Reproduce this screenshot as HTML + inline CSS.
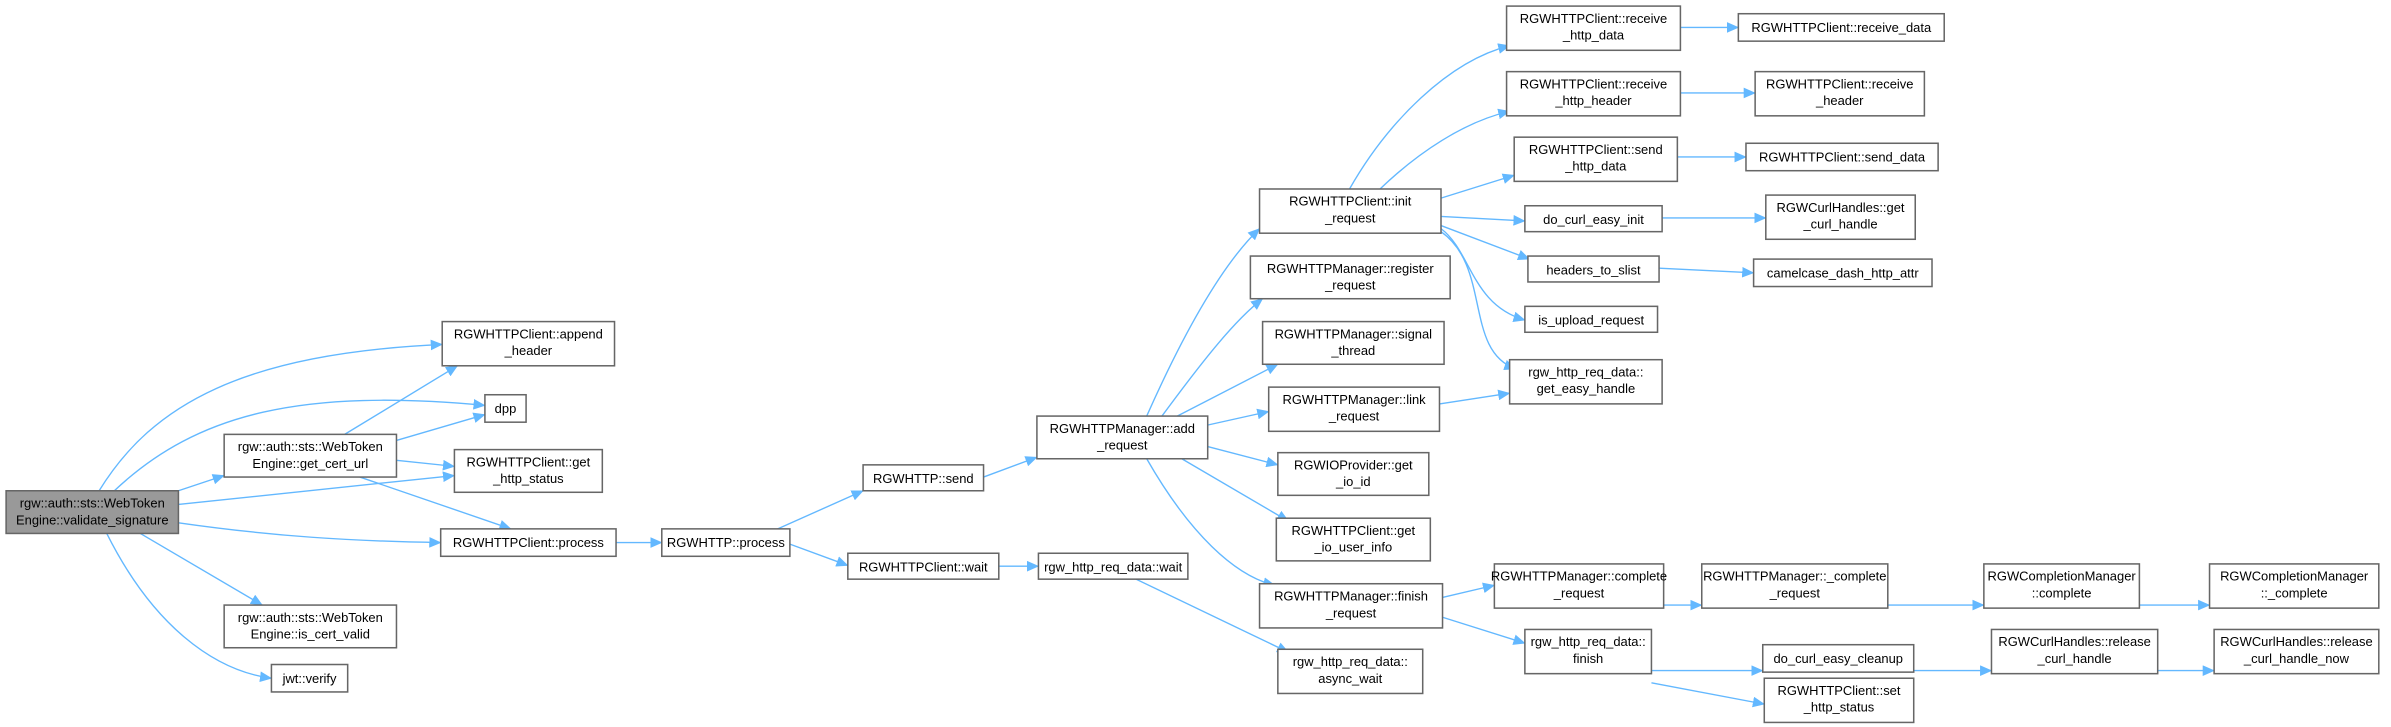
<!DOCTYPE html>
<html><head><meta charset="utf-8"><style>
html,body{margin:0;padding:0;background:#fff;}
svg{display:block;}
text{font-family:"Liberation Sans",sans-serif;font-size:8.5px;fill:#000;text-anchor:middle;}
rect{fill:#fff;stroke:#666;stroke-width:1;}
path{fill:none;stroke:#63b8ff;stroke-width:0.9;}
</style></head><body>
<svg width="2391" height="727" viewBox="0 0 1568 477" preserveAspectRatio="none" xmlns="http://www.w3.org/2000/svg">
<defs><marker id="a" markerWidth="8" markerHeight="7" refX="7.5" refY="3.5" orient="auto" markerUnits="userSpaceOnUse"><polygon points="0,0 8,3.5 0,7" fill="#63b8ff"/></marker></defs>
<g marker-end="url(#a)">
<path d="M65,322 C100,265 160,232 290,226"/>
<path d="M75,322 C130,270 200,255 318,266"/>
<path d="M117,322 L147,312"/>
<path d="M117,331 L298,312"/>
<path d="M117,343 C180,352 230,355 289,356"/>
<path d="M92,350 L172,397"/>
<path d="M70,350 C100,410 140,440 178,445"/>
<path d="M226,285 L300,240"/>
<path d="M260,289 L318,272"/>
<path d="M260,302 L298,306"/>
<path d="M236,313 L335,347"/>
<path d="M404,356 L434,356"/>
<path d="M510,347 L566,322"/>
<path d="M518,357 L556,371"/>
<path d="M645,313 L680,300"/>
<path d="M655,371.5 L681,371.5"/>
<path d="M745,380 L845,428"/>
<path d="M752,273 C780,210 805,170 826,150"/>
<path d="M762,273 C790,235 810,210 828,196"/>
<path d="M772,273 L838,239"/>
<path d="M787,280 L832,270"/>
<path d="M792,293 L838,305"/>
<path d="M775,301 L845,342"/>
<path d="M752,301 C780,350 810,378 836,384"/>
<path d="M885,124 C910,80 950,40 990,30"/>
<path d="M905,124 C930,100 960,80 990,73"/>
<path d="M945,130 L993,115"/>
<path d="M945,142 L1000,145"/>
<path d="M945,148 L1003,170"/>
<path d="M945,150 C965,165 965,200 1000,210"/>
<path d="M945,152 C978,175 960,230 994,242"/>
<path d="M944,265 L990,258"/>
<path d="M1102,18 L1140,18"/>
<path d="M1102,61 L1151,61"/>
<path d="M1100,103 L1145,103"/>
<path d="M1090,143 L1158,143"/>
<path d="M1088,176 L1150,179"/>
<path d="M946,392 L980,384"/>
<path d="M946,405 L1000,422"/>
<path d="M1091,397 L1116,397"/>
<path d="M1238,397 L1301,397"/>
<path d="M1403,397 L1449,397"/>
<path d="M1083,440 L1156,440"/>
<path d="M1083,448 L1157,462"/>
<path d="M1255,440 L1306,440"/>
<path d="M1415,440 L1452,440"/>
</g>
<rect x="4" y="322" width="113" height="28" style="fill:#999"/>
<text x="60.5" y="333">rgw::auth::sts::WebToken</text><text x="60.5" y="344">Engine::validate_signature</text>
<rect x="290" y="211" width="113" height="29"/><text x="346.5" y="222">RGWHTTPClient::append</text><text x="346.5" y="233">_header</text>
<rect x="318" y="259" width="27" height="18"/><text x="331.5" y="271">dpp</text>
<rect x="147" y="285" width="113" height="28"/><text x="203.5" y="296">rgw::auth::sts::WebToken</text><text x="203.5" y="307">Engine::get_cert_url</text>
<rect x="298" y="295" width="97" height="28"/><text x="346.5" y="306">RGWHTTPClient::get</text><text x="346.5" y="317">_http_status</text>
<rect x="289" y="347" width="115" height="18"/><text x="346.5" y="359">RGWHTTPClient::process</text>
<rect x="147" y="397" width="113" height="28"/><text x="203.5" y="408">rgw::auth::sts::WebToken</text><text x="203.5" y="419">Engine::is_cert_valid</text>
<rect x="178" y="436" width="50" height="18"/><text x="203" y="448">jwt::verify</text>
<rect x="434" y="347" width="84" height="18"/><text x="476" y="359">RGWHTTP::process</text>
<rect x="566" y="305" width="79" height="17"/><text x="605.5" y="317">RGWHTTP::send</text>
<rect x="556" y="363" width="99" height="17"/><text x="605.5" y="375">RGWHTTPClient::wait</text>
<rect x="681" y="363" width="98" height="17"/><text x="730" y="375">rgw_http_req_data::wait</text>
<rect x="680" y="273" width="112" height="28"/><text x="736" y="284">RGWHTTPManager::add</text><text x="736" y="295">_request</text>
<rect x="826" y="124" width="119" height="29"/><text x="885.5" y="135">RGWHTTPClient::init</text><text x="885.5" y="146">_request</text>
<rect x="820" y="168" width="131" height="28"/><text x="885.5" y="179">RGWHTTPManager::register</text><text x="885.5" y="190">_request</text>
<rect x="828" y="211" width="119" height="28"/><text x="887.5" y="222">RGWHTTPManager::signal</text><text x="887.5" y="233">_thread</text>
<rect x="832" y="254" width="112" height="29"/><text x="888" y="265">RGWHTTPManager::link</text><text x="888" y="276">_request</text>
<rect x="838" y="297" width="99" height="28"/><text x="887.5" y="308">RGWIOProvider::get</text><text x="887.5" y="319">_io_id</text>
<rect x="837" y="340" width="101" height="28"/><text x="887.5" y="351">RGWHTTPClient::get</text><text x="887.5" y="362">_io_user_info</text>
<rect x="826" y="383" width="120" height="29"/><text x="886" y="394">RGWHTTPManager::finish</text><text x="886" y="405">_request</text>
<rect x="838" y="426" width="95" height="29"/><text x="885.5" y="437">rgw_http_req_data::</text><text x="885.5" y="448">async_wait</text>
<rect x="988" y="4" width="114" height="29"/><text x="1045" y="15">RGWHTTPClient::receive</text><text x="1045" y="26">_http_data</text>
<rect x="988" y="47" width="114" height="29"/><text x="1045" y="58">RGWHTTPClient::receive</text><text x="1045" y="69">_http_header</text>
<rect x="993" y="90" width="107" height="29"/><text x="1046.5" y="101">RGWHTTPClient::send</text><text x="1046.5" y="112">_http_data</text>
<rect x="1000" y="135" width="90" height="17"/><text x="1045" y="147">do_curl_easy_init</text>
<rect x="1002" y="168" width="86" height="17"/><text x="1045" y="180">headers_to_slist</text>
<rect x="1000" y="201" width="87" height="17"/><text x="1043.5" y="213">is_upload_request</text>
<rect x="990" y="236" width="100" height="29"/><text x="1040" y="247">rgw_http_req_data::</text><text x="1040" y="258">get_easy_handle</text>
<rect x="1140" y="9" width="135" height="18"/><text x="1207.5" y="21">RGWHTTPClient::receive_data</text>
<rect x="1151" y="47" width="111" height="29"/><text x="1206.5" y="58">RGWHTTPClient::receive</text><text x="1206.5" y="69">_header</text>
<rect x="1145" y="94" width="126" height="18"/><text x="1208" y="106">RGWHTTPClient::send_data</text>
<rect x="1158" y="128" width="98" height="29"/><text x="1207" y="139">RGWCurlHandles::get</text><text x="1207" y="150">_curl_handle</text>
<rect x="1150" y="170" width="117" height="18"/><text x="1208.5" y="182">camelcase_dash_http_attr</text>
<rect x="980" y="370" width="111" height="29"/><text x="1035.5" y="381">RGWHTTPManager::complete</text><text x="1035.5" y="392">_request</text>
<rect x="1116" y="370" width="122" height="29"/><text x="1177" y="381">RGWHTTPManager::_complete</text><text x="1177" y="392">_request</text>
<rect x="1301" y="370" width="102" height="29"/><text x="1352" y="381">RGWCompletionManager</text><text x="1352" y="392">::complete</text>
<rect x="1449" y="370" width="111" height="29"/><text x="1504.5" y="381">RGWCompletionManager</text><text x="1504.5" y="392">::_complete</text>
<rect x="1000" y="413" width="83" height="29"/><text x="1041.5" y="424">rgw_http_req_data::</text><text x="1041.5" y="435">finish</text>
<rect x="1156" y="423" width="99" height="18"/><text x="1205.5" y="435">do_curl_easy_cleanup</text>
<rect x="1306" y="413" width="109" height="29"/><text x="1360.5" y="424">RGWCurlHandles::release</text><text x="1360.5" y="435">_curl_handle</text>
<rect x="1452" y="413" width="108" height="29"/><text x="1506" y="424">RGWCurlHandles::release</text><text x="1506" y="435">_curl_handle_now</text>
<rect x="1157" y="445" width="98" height="29"/><text x="1206" y="456">RGWHTTPClient::set</text><text x="1206" y="467">_http_status</text>
</svg>
</body></html>
